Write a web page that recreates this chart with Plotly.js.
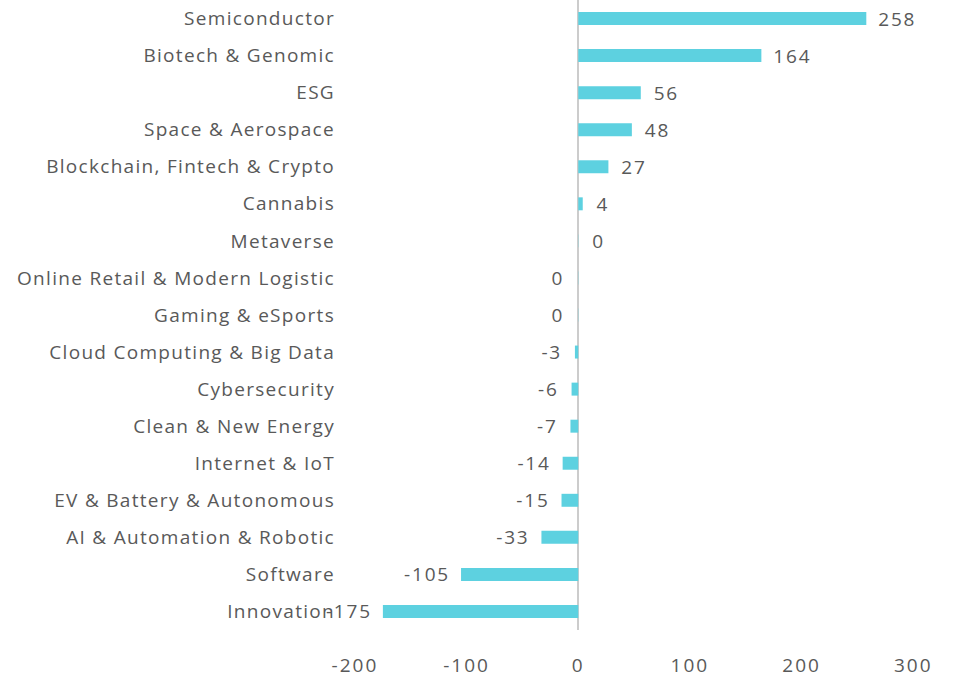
<!DOCTYPE html>
<html>
<head>
<meta charset="utf-8">
<script src="https://cdn.plot.ly/plotly-3.0.1.min.js"></script>
<style>
html,body{margin:0;padding:0;background:#fff;}
#chart{width:956px;height:677px;}
#chart .ytick text{letter-spacing:1.3px;}
#chart .xtick text{letter-spacing:2px;}
#chart text.bartext{letter-spacing:1.8px;}
</style>
</head>
<body>
<div id="chart"></div>
<script>
// Categories listed top to bottom
const categories = [
  "Semiconductor",
  "Biotech & Genomic",
  "ESG",
  "Space & Aerospace",
  "Blockchain, Fintech & Crypto",
  "Cannabis",
  "Metaverse",
  "Online Retail & Modern Logistic",
  "Gaming & eSports",
  "Cloud Computing & Big Data",
  "Cybersecurity",
  "Clean & New Energy",
  "Internet & IoT",
  "EV & Battery & Autonomous",
  "AI & Automation & Robotic",
  "Software",
  "Innovation"
];
const values = [258, 164, 56, 48, 27, 4, 0.2, -0.2, -0.2, -3, -6, -7, -14, -15, -33, -105, -175];
const xTicks = [-200, -100, 0, 100, 200, 300];

const labels = values.map(v => {
  const r = String(Math.round(v) === 0 ? 0 : Math.round(v));
  return v >= 0 ? '\u00a0\u00a0' + r : r + '\u00a0\u00a0';
});

const font = "Open Sans, sans-serif";
const grey = "#595959";

const trace = {
  type: 'bar',
  orientation: 'h',
  y: categories,
  x: values,
  width: 0.35,
  marker: {color: '#5dd1e0'},
  text: labels,
  textposition: 'outside',
  constraintext: 'none',
  cliponaxis: false,
  textfont: {family: font, size: 19, color: grey},
  hoverinfo: 'x+y'
};

const layout = {
  width: 956,
  height: 677,
  margin: {l: 336, r: 16, t: 0, b: 47},
  paper_bgcolor: '#ffffff',
  plot_bgcolor: '#ffffff',
  showlegend: false,
  font: {family: font, size: 19, color: grey},
  xaxis: {
    range: [-217, 324],
    tickvals: xTicks,
    ticktext: xTicks.map(String),
    showgrid: false,
    zeroline: true,
    zerolinecolor: '#cccccc',
    zerolinewidth: 2,
    showline: false,
    ticks: '',
    ticklabelstandoff: 22,
    tickfont: {family: font, size: 19, color: grey}
  },
  yaxis: {
    categoryorder: 'array',
    categoryarray: categories.slice().reverse(),
    autorange: false,
    range: [-0.5, categories.length - 0.5],
    showgrid: false,
    zeroline: false,
    showline: false,
    ticks: '',
    ticklabelstandoff: 0,
    tickfont: {family: font, size: 19, color: grey}
  },
  bargap: 0.65
};

Plotly.newPlot('chart', [trace], layout, {displayModeBar: false, staticPlot: true});
</script>
</body>
</html>
